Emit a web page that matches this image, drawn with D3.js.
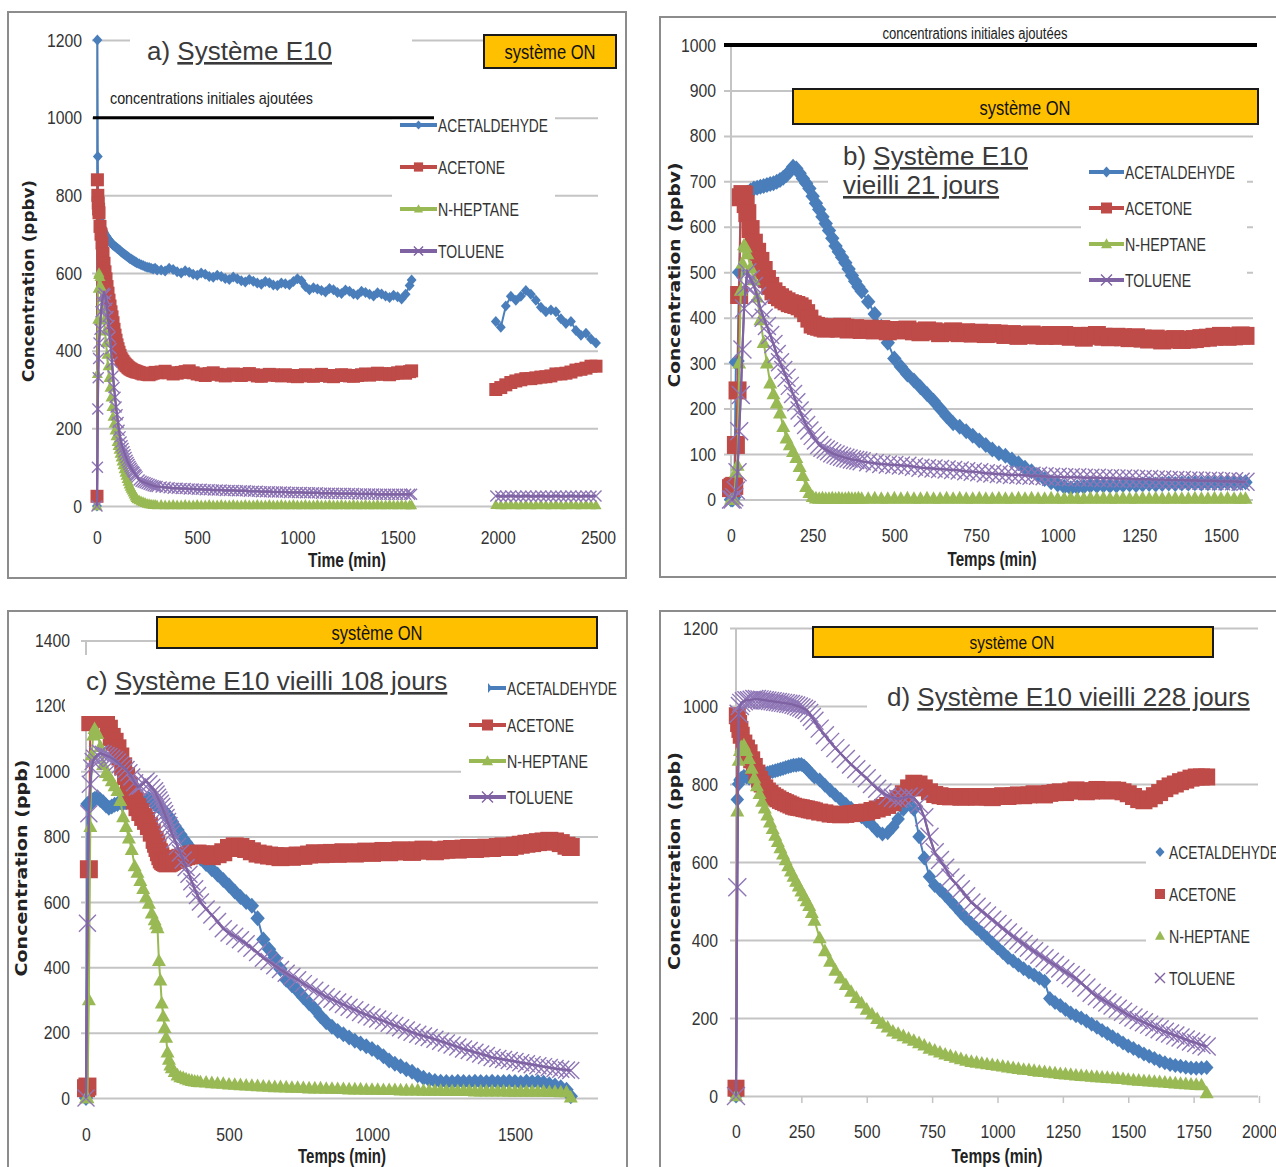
<!DOCTYPE html>
<html>
<head>
<meta charset="utf-8">
<script src="https://cdn.jsdelivr.net/npm/d3@7"></script>
<style>
  body { margin: 0; background: #fff; }
</style>
</head>
<body>
<svg id="chart" width="1276" height="1167"></svg>
<script>
// ---------------------------------------------------------------
// Measured concentrations (ppb) of four VOCs versus time (min)
// ---------------------------------------------------------------
const seriesNames = ["ACETALDEHYDE", "ACETONE", "N-HEPTANE", "TOLUENE"];

// a) Système E10 — first run
const timeA1 = [0,2,4,6,8,
  10,15,20,25,30,35,40,45,50,55,60,65,70,75,80,85,90,95,100,105,110,115,120,125,130,135,140,145,150,155,160,165,170,175,180,185,190,195,200,
  210,220,230,240,250,260,270,280,290,300,
  320,340,360,380,400,420,440,460,480,500,520,540,560,580,600,620,640,660,680,700,720,740,760,780,800,820,840,860,880,900,
  920,940,960,980,1000,1020,1040,1060,1080,1100,1120,1140,1160,1180,1200,1220,1240,1260,1280,1300,1320,1340,1360,1380,1400,
  1420,1440,1460,1480,1500,1520,1540,1560,1570];
const acetaldehydeA1 = [0,1200,900,780,765,
  755,740,728,718,710,705,700,696,692,688,685,682,678,675,672,670,668,666,664,662,660,658,655,653,651,649,647,645,643,641,639,637,636,634,632,631,629,628,626,
  624,621,619,617,615,614,612,610,612,608,
  608,605,612,609,603,600,606,602,597,594,600,597,591,589,594,591,586,583,590,585,580,577,583,579,574,571,578,575,569,568,
  574,572,570,578,585,580,565,557,562,559,555,551,560,557,550,547,556,553,546,544,553,550,545,541,549,
  546,541,537,543,539,533,545,568,582];
const acetoneA1 = [25,840,800,780,765,
  755,720,700,677,650,625,603,585,565,548,530,515,500,487,472,455,440,427,415,405,396,388,380,376,372,368,365,362,360,357,355,353,352,350,349,348,347,346,345,
  344,342,340,341,339,338,340,342,344,343,
  345,347,343,340,342,344,346,348,343,340,338,336,341,343,339,337,335,338,340,337,336,339,341,338,335,334,337,339,338,336,
  335,338,336,334,333,336,338,335,334,337,339,336,334,333,336,338,337,335,334,336,338,340,337,339,342,
  341,339,338,341,343,345,342,346,348];
const heptaneA1 = [0,340,480,560,595,
  600,590,565,535,505,478,450,420,390,360,330,305,280,255,230,212,195,180,165,155,145,135,125,115,105,95,86,78,70,63,56,50,45,40,35,30,25,21,18,
  15,12,10,8,6,5,4,3,3,2,
  3,2,2,3,2,2,3,2,2,3,2,2,3,2,2,3,2,2,3,2,2,3,2,2,3,2,2,3,2,2,
  3,2,2,3,2,2,3,2,2,3,2,2,3,2,2,3,2,2,3,2,2,3,2,2,3,
  2,2,3,2,2,3,2,2,2];
const tolueneA1 = [0,100,250,330,380,
  420,455,500,525,540,548,545,530,510,488,465,435,405,370,335,305,280,255,235,215,195,178,165,155,148,140,132,125,118,112,107,102,97,93,89,86,82,79,75,
  67,64,62,60,58,56,54,52,51,50,
  49,48,47,46,46,45,45,44,44,43,43,42,42,41,41,41,40,40,40,39,39,39,38,38,38,37,37,37,36,36,
  36,36,35,35,35,35,34,34,34,34,33,33,33,33,32,32,32,32,32,31,31,31,31,31,30,
  30,30,30,30,30,30,30,30,30];
// a) Système E10 — second run
const timeA2 = [1990,2015,2040,2065,2090,2115,2140,2165,2190,2215,2240,2265,2290,2315,2340,2365,2390,2415,2440,2465,2490];
const acetaldehydeA2 = [475,460,515,540,530,540,555,545,530,512,500,505,500,482,470,475,452,440,445,430,420];
const acetoneA2 = [300,305,312,318,322,325,328,328,330,332,333,335,340,340,342,345,350,352,355,360,360];
const heptaneA2 = [3,2,2,3,2,2,3,2,2,3,2,2,3,2,2,3,2,2,3,2,2];
const tolueneA2 = [26,25,25,26,25,25,26,25,25,26,25,25,26,25,25,26,25,25,26,25,26];

// b) Système E10 vieilli 21 jours
const timeB = [0,5,10,15,20,25,30,35,40,45,50,
  60,70,80,90,100,110,120,130,140,150,160,170,180,190,200,210,220,230,240,250,260,270,280,290,300,310,320,330,340,350,360,370,380,390,400,
  420,440,460,480,500,520,540,560,580,600,620,640,660,680,700,720,740,760,780,800,820,840,860,880,900,920,940,960,980,1000,
  1020,1040,1060,1080,1100,1120,1140,1160,1180,1200,1220,1240,1260,1280,1300,1320,1340,1360,1380,1400,1420,1440,1460,1480,1500,1520,1540,1560,1575];
const acetaldehydeB = [0,0,5,302,305,500,660,668,670,672,675,
  680,684,686,688,690,692,694,696,699,703,708,714,722,732,728,718,706,696,684,667,652,638,622,607,592,575,558,545,533,521,507,493,480,468,458,
  435,408,380,345,310,292,275,262,247,232,217,200,183,168,160,150,140,130,120,110,102,96,88,80,70,62,54,45,38,33,
  28,25,27,28,30,30,31,30,31,32,33,32,33,34,33,34,35,34,35,35,36,35,36,36,36,37,36,37,38];
const acetoneB = [25,28,30,120,240,450,665,672,670,650,630,
  595,565,545,525,505,485,470,458,450,445,440,436,432,430,428,425,420,410,398,385,382,380,378,376,377,379,378,376,380,378,374,376,377,375,373,
  376,372,375,370,373,372,374,370,368,372,370,366,368,370,366,368,365,367,364,366,365,362,364,360,362,363,361,360,362,360,
  362,358,360,356,360,362,358,357,358,357,355,357,354,352,354,350,352,353,351,352,353,355,356,358,360,358,359,361,360];
const heptaneB = [0,0,0,60,75,300,460,520,560,555,540,
  510,483,445,395,345,300,256,232,212,190,160,135,120,105,92,72,52,28,15,6,3,2,3,2,2,3,2,3,2,2,3,2,2,3,2,
  2,3,2,2,3,2,3,2,2,3,2,2,3,2,3,2,2,3,2,2,3,2,2,3,2,3,2,2,3,2,
  2,3,2,2,3,2,3,2,2,3,2,2,3,2,3,2,2,3,2,2,3,2,2,3,2,3,2,2,2];
const tolueneB = [0,0,5,20,60,150,230,330,420,470,500,
  485,470,448,420,400,382,362,342,320,302,285,268,250,232,214,196,180,164,152,140,130,120,114,110,106,102,99,96,94,92,90,88,87,86,84,
  82,80,78,77,76,75,74,72,70,69,68,67,66,65,64,62,61,60,58,57,56,55,54,54,53,52,52,51,50,50,
  49,49,49,48,48,48,47,47,46,46,46,45,45,45,44,44,43,43,43,42,42,41,41,41,40,40,40,39,39];

// c) Système E10 vieilli 108 jours
const timeC = [0,5,10,15,20,25,30,
  40,50,60,70,80,90,100,110,120,130,140,150,160,170,180,190,200,210,220,230,240,
  245,250,255,260,265,270,275,280,285,290,295,300,
  310,320,330,340,350,360,370,380,390,400,
  420,440,460,480,500,520,540,560,580,600,620,640,660,680,700,720,740,760,780,800,820,840,860,880,900,920,940,960,980,1000,
  1020,1040,1060,1080,1100,1120,1140,1160,1180,1200,1220,1240,1260,1280,1300,1320,1340,1360,1380,1400,
  1420,1440,1460,1480,1500,1520,1540,1560,1580,1600,1620,1640,1660,1680,1695];
const acetaldehydeC = [0,900,895,905,910,912,915,
  920,912,905,895,888,892,897,900,905,902,905,908,912,915,918,912,906,910,915,908,900,
  898,895,892,890,885,880,876,870,865,860,852,845,
  832,820,806,793,782,770,760,750,742,733,
  716,700,684,667,650,632,615,600,588,550,485,455,430,395,362,345,328,308,290,272,250,232,218,205,195,185,175,167,158,150,
  140,128,115,105,97,88,80,70,62,56,52,50,49,48,50,49,48,50,49,48,
  50,48,49,50,49,47,50,48,49,47,42,38,33,25,5];
const acetoneC = [30,35,700,1150,1200,1205,1210,
  1205,1200,1185,1160,1130,1105,1090,1070,1045,1015,985,955,930,910,890,875,860,848,832,812,790,
  778,765,752,740,730,725,722,720,718,720,722,725,
  728,732,735,737,740,742,745,747,748,746,
  744,740,746,752,765,770,768,762,755,748,745,742,740,737,740,738,742,741,745,749,746,748,750,747,752,750,748,752,754,750,
  753,756,752,755,758,755,753,758,760,757,755,758,760,762,760,763,765,762,764,766,
  765,768,770,768,772,775,778,780,783,785,787,785,780,772,768];
const heptaneC = [0,0,300,830,1050,1110,1130,
  1115,1075,1020,995,985,970,955,940,910,860,830,795,760,710,690,665,640,615,595,565,545,
  532,520,420,360,290,250,215,185,140,118,100,92,
  80,70,64,62,58,55,53,51,50,49,
  48,46,45,44,42,41,40,39,38,37,36,35,34,34,33,32,32,31,30,30,30,29,29,28,28,27,27,27,26,26,
  26,25,25,25,24,24,24,24,23,23,23,23,22,22,22,22,22,21,21,21,
  21,21,21,20,20,20,20,20,20,20,19,19,18,18,2];
const tolueneC = [0,535,870,960,1010,1030,1040,
  1050,1055,1052,1048,1045,1040,1035,1028,1020,1012,1005,995,982,965,952,955,962,970,962,950,940,
  930,920,912,902,892,880,870,858,846,834,822,810,
  790,770,750,728,705,685,662,640,620,600,
  578,560,540,518,505,495,484,472,458,445,428,418,405,393,382,372,362,350,340,330,320,310,302,294,286,278,270,262,255,248,
  242,236,229,222,215,208,201,195,190,185,180,174,168,162,156,150,145,140,135,130,
  124,121,118,115,112,108,105,102,99,96,93,90,88,86,84];

// d) Système E10 vieilli 228 jours
const timeD = [0,5,10,15,20,
  30,40,50,60,70,80,90,100,110,120,130,140,150,160,170,180,190,200,210,220,230,240,250,260,270,280,290,300,
  320,340,360,380,400,420,440,460,480,500,520,540,560,580,600,620,640,660,680,700,720,740,760,780,800,820,840,860,880,900,
  920,940,960,980,1000,1020,1040,1060,1080,1100,1120,1140,1160,1180,1200,1220,1240,1260,1280,1300,1320,1340,1360,1380,1400,
  1420,1440,1460,1480,1500,1520,1540,1560,1580,1600,1620,1640,1660,1680,1700,1720,1740,1760,1780,1800];
const acetaldehydeD = [0,760,800,810,815,
  820,818,815,818,820,822,824,826,827,828,830,832,834,836,838,840,842,844,846,848,848,850,850,846,840,832,825,818,
  810,797,784,772,760,748,738,726,716,705,695,680,672,675,690,710,735,758,735,665,610,562,540,528,515,500,485,470,456,443,
  430,418,405,392,380,368,355,346,336,326,318,310,302,294,250,240,232,222,213,206,200,192,184,176,168,
  160,152,144,136,128,122,115,108,102,96,90,85,81,78,76,74,72,71,72,73];
const acetoneD = [20,975,955,940,925,
  905,892,880,862,845,828,812,800,790,782,776,770,766,762,758,755,752,749,746,743,741,740,739,737,736,734,733,731,
  728,726,723,722,721,722,724,725,727,728,732,736,740,745,752,762,775,790,802,800,790,780,773,770,768,767,768,766,767,768,
  766,768,767,765,768,770,768,770,772,770,772,775,773,772,776,778,780,778,782,785,783,780,782,786,784,
  782,785,784,780,775,768,760,757,762,770,778,788,795,800,806,810,815,818,818,818];
const heptaneD = [0,730,860,885,895,
  900,885,865,840,815,795,775,755,738,720,702,685,668,652,636,620,605,590,576,563,550,538,525,513,500,488,470,450,
  405,372,345,322,302,285,268,252,238,222,210,198,186,176,166,160,154,148,142,136,130,122,117,112,107,103,99,95,91,88,
  86,84,82,80,78,76,74,72,70,68,67,65,63,62,60,59,57,56,55,53,52,51,50,49,48,
  47,46,45,44,42,41,40,39,38,37,36,35,34,33,32,31,30,29,28,8];
const tolueneD = [0,535,980,1000,1008,
  1012,1015,1015,1016,1018,1018,1017,1016,1015,1014,1013,1012,1011,1010,1009,1008,1007,1006,1005,1003,1001,999,996,993,990,982,972,962,
  942,925,908,892,878,864,850,838,826,815,800,788,778,770,765,762,764,768,765,748,715,665,625,605,585,560,545,530,512,496,
  485,474,463,452,441,430,419,409,399,390,380,371,362,353,344,336,327,318,310,302,290,278,265,256,248,
  240,232,224,216,208,201,195,189,183,177,171,165,160,155,150,145,140,136,131,127];

// Axis tick values
const yTicksA = [0, 200, 400, 600, 800, 1000, 1200];
const xTicksA = [0, 500, 1000, 1500, 2000, 2500];
const yTicksB = [0, 100, 200, 300, 400, 500, 600, 700, 800, 900, 1000];
const xTicksB = [0, 250, 500, 750, 1000, 1250, 1500];
const yTicksC = [0, 200, 400, 600, 800, 1000, 1200, 1400];
const xTicksC = [0, 500, 1000, 1500];
const yTicksD = [0, 200, 400, 600, 800, 1000, 1200];
const xTicksD = [0, 250, 500, 750, 1000, 1250, 1500, 1750, 2000];

// Level of the initial injection
const initialLevel = 1000;

// ---------------------------------------------------------------
// Styling
// ---------------------------------------------------------------
const NARROW = '"Liberation Sans Narrow","Arial Narrow","Liberation Sans",Arial,sans-serif';
const SANS = '"Liberation Sans",Arial,sans-serif';
const BOLDFACE = '"DejaVu Sans",Verdana,sans-serif';
const colors = ["#4A7EBB", "#BE4B48", "#98B954", "#7F62A1"];
const crossColor = "#8F76B6";
const shapes = ["diamond", "square", "triangle", "cross"];
const GRID = "#c4c4c4";

function shapePath(shape, h) {
  switch (shape) {
    case "diamond": return `M0,${-h}L${h * 0.9},0L0,${h}L${-h * 0.9},0Z`;
    case "square": return `M${-h},${-h}h${2 * h}v${2 * h}h${-2 * h}Z`;
    case "triangle": return `M0,${-h * 1.05}L${h},${h * 0.75}L${-h},${h * 0.75}Z`;
    default: return `M${-h},${-h}L${h},${h}M${-h},${h}L${h},${-h}`;
  }
}
function styleMarker(sel, i, plotMarks) {
  if (shapes[i] === "cross") sel.attr("fill", "none").attr("stroke", plotMarks ? crossColor : colors[i]).attr("stroke-width", 1.4);
  else sel.attr("fill", colors[i]).attr("stroke", "none");
}
// force a text to a given rendered width
function fit(sel, w) {
  return sel.attr("textLength", w).attr("lengthAdjust", "spacingAndGlyphs");
}
// condense texts horizontally by a factor
function condense(sel, k) {
  sel.each(function () {
    const w = this.getComputedTextLength();
    d3.select(this).attr("textLength", w * k).attr("lengthAdjust", "spacingAndGlyphs");
  });
}

const svg = d3.select("#chart");

const panels = [
  {
    frame: [8, 12, 618, 566],
    xDomain: [0, 2500], xRange: [97, 598], yDomain: [0, 1200], yRange: [506, 40],
    xTicks: xTicksA, yTicks: yTicksA, gridL: 92, gridR: 598,
    yLabelRight: 82, xLabelBase: 544, xTickLen: 0, mk: [5.5, 6.5, 5.5, 5.5], lw: 2,
    series: [
      [[timeA1, acetaldehydeA1], [timeA2, acetaldehydeA2]],
      [[timeA1, acetoneA1], [timeA2, acetoneA2]],
      [[timeA1, heptaneA1], [timeA2, heptaneA2]],
      [[timeA1, tolueneA1], [timeA2, tolueneA2]]
    ],
    yTitle: { text: "Concentration (ppbv)", x: 29, y: 281, len: 202 },
    xTitle: { text: "Time (min)", x: 347, y: 567, len: 78 },
    titleBox: [130, 25, 282, 45],
    titles: [{ x: 147, y: 60, pre: "a) ", u: "Système E10" }],
    legendBox: [392, 105, 163, 160],
    legend: { x1: 400, x2: 437, tx: 438, ys: [125, 167, 209, 251], lines: true, mk: 4.6 },
    onBox: [484, 35, 132, 33], onText: { x: 550, y: 59, len: 91, size: 21 },
    initLine: { x1: 93, x2: 434, w: 3, tx: 110, ty: 104, anchor: "start", len: 203, size: 17 }
  },
  {
    frame: [660, 17, 640, 560],
    xDomain: [0, 1500], xRange: [731, 1221], yDomain: [0, 1000], yRange: [499.5, 45],
    xTicks: xTicksB, yTicks: yTicksB, gridL: 724, gridR: 1253,
    yLabelRight: 716, xLabelBase: 542, xTickLen: 0, mk: [8, 9, 7, 9], lw: 2,
    series: [
      [[timeB, acetaldehydeB]], [[timeB, acetoneB]], [[timeB, heptaneB]], [[timeB, tolueneB]]
    ],
    yTitle: { text: "Concentration (ppbv)", x: 675, y: 275, len: 225 },
    xTitle: { text: "Temps (min)", x: 992, y: 566, len: 89 },
    onBox: [793, 89, 465, 35], onText: { x: 1025, y: 115, len: 91, size: 21 },
    initLine: { x1: 724, x2: 1257, w: 4, tx: 975, ty: 39, anchor: "middle", len: 185, size: 16 },
    titleBox: [828, 138, 260, 68],
    titles: [{ x: 843, y: 165, pre: "b) ", u: "Système E10" }, { x: 843, y: 194, pre: "", u: "vieilli 21 jours" }],
    legendBox: [1081, 152, 166, 143],
    legend: { x1: 1089, x2: 1124, tx: 1125, ys: [172, 208, 244, 280], lines: true, mk: 5.5 }
  },
  {
    frame: [8, 611, 619, 620],
    xDomain: [0, 1500], xRange: [86, 515], yDomain: [0, 1400], yRange: [1098, 640.5],
    xTicks: xTicksC, yTicks: yTicksC, gridL: 81, gridR: 598,
    yLabelRight: 70, xLabelBase: 1141, xTickLen: 0, mk: [8, 9, 7, 8.5], lw: 2,
    series: [
      [[timeC, acetaldehydeC]], [[timeC, acetoneC]], [[timeC, heptaneC]], [[timeC, tolueneC]]
    ],
    yTitle: { text: "Concentration (ppb)", x: 22, y: 868, len: 217 },
    xTitle: { text: "Temps (min)", x: 342, y: 1163, len: 88 },
    onBox: [157, 617, 440, 31], onText: { x: 377, y: 640, len: 91, size: 21 },
    titleBox: [65, 655, 400, 61],
    titles: [{ x: 86, y: 690, pre: "c) ", u: "Système E10 vieilli 108 jours" }],
    legendBox: [461, 668, 161, 147],
    legend: { x1: 469, x2: 506, tx: 507, ys: [688, 725, 761, 797], lines: true, mk: 5.5, cutFirst: 488 }
  },
  {
    frame: [660, 611, 640, 620],
    xDomain: [0, 2000], xRange: [736, 1259], yDomain: [0, 1200], yRange: [1096, 628],
    xTicks: xTicksD, yTicks: yTicksD, gridL: 730, gridR: 1258,
    yLabelRight: 718, xLabelBase: 1138, xTickLen: 7, mk: [7.5, 8.5, 7, 9], lw: 2,
    series: [
      [[timeD, acetaldehydeD]], [[timeD, acetoneD]], [[timeD, heptaneD]], [[timeD, tolueneD]]
    ],
    yTitle: { text: "Concentration (ppb)", x: 675, y: 861, len: 218 },
    xTitle: { text: "Temps (min)", x: 997, y: 1163, len: 91 },
    onBox: [813, 627, 400, 30], onText: { x: 1012, y: 649, len: 85, size: 18 },
    titleBox: [867, 672, 400, 50],
    titles: [{ x: 887, y: 706, pre: "d) ", u: "Système E10 vieilli 228 jours" }],
    legendBox: [1146, 830, 135, 170],
    legend: { x1: 1160, x2: 1160, tx: 1169, ys: [852, 894, 936, 978], lines: false, mk: 5 }
  }
];

function drawPanel(p) {
  const g = svg.append("g");
  const x = d3.scaleLinear().domain(p.xDomain).range(p.xRange);
  const y = d3.scaleLinear().domain(p.yDomain).range(p.yRange);
  const x0 = x(0), yTop = y(p.yTicks[p.yTicks.length - 1]), yZero = y(0);

  // frame
  g.append("rect")
    .attr("x", p.frame[0]).attr("y", p.frame[1])
    .attr("width", p.frame[2]).attr("height", p.frame[3])
    .attr("fill", "#fff").attr("stroke", "#8c8c8c").attr("stroke-width", 2);

  // y axis: gridlines and labels
  const yAxis = d3.axisLeft(y)
    .tickValues(p.yTicks)
    .tickFormat(d3.format("d"))
    .tickSizeInner(-(p.gridR - x0))
    .tickSizeOuter(0)
    .tickPadding(x0 - p.yLabelRight);
  const ya = g.append("g").attr("transform", `translate(${x0},0)`).call(yAxis);
  ya.select(".domain").remove();
  ya.selectAll("line").attr("x1", p.gridL - x0).attr("stroke", GRID).attr("stroke-width", 2);
  ya.selectAll("text").style("font-family", NARROW).style("font-size", "19px").attr("fill", "#333")
    .call(condense, 0.83);

  // y axis line
  g.append("line").attr("x1", x0).attr("x2", x0).attr("y1", yTop).attr("y2", yZero)
    .attr("stroke", GRID).attr("stroke-width", 2);

  // x axis labels
  const xAxis = d3.axisBottom(x)
    .tickValues(p.xTicks)
    .tickFormat(d3.format("d"))
    .tickSizeInner(p.xTickLen)
    .tickSizeOuter(0);
  const xa = g.append("g").attr("transform", `translate(0,${yZero})`).call(xAxis);
  xa.select(".domain").remove();
  xa.selectAll("line").attr("stroke", GRID).attr("stroke-width", 1.5);
  xa.selectAll("text")
    .attr("y", p.xLabelBase - yZero).attr("dy", null)
    .style("font-family", NARROW).style("font-size", "19px").attr("fill", "#333")
    .call(condense, 0.83);

  // axis titles
  fit(g.append("text")
    .attr("transform", `translate(${p.yTitle.x},${p.yTitle.y}) rotate(-90)`)
    .attr("text-anchor", "middle").attr("dy", "0.35em")
    .style("font-family", BOLDFACE).style("font-weight", "bold").style("font-size", "15px")
    .attr("fill", "#222").text(p.yTitle.text), p.yTitle.len);
  fit(g.append("text")
    .attr("x", p.xTitle.x).attr("y", p.xTitle.y).attr("text-anchor", "middle")
    .style("font-family", NARROW).style("font-weight", "bold").style("font-size", "20px")
    .attr("fill", "#222").text(p.xTitle.text), p.xTitle.len);

  // data series: line + markers
  const line = d3.line().x(d => x(d[0])).y(d => y(d[1]));
  p.series.forEach((segments, i) => {
    segments.forEach(([times, values]) => {
      if (times.length !== values.length) console.warn("length mismatch", seriesNames[i], times.length, values.length);
      const pts = times.map((t, k) => [t, values[k]]).filter(d => d[1] != null);
      g.append("path").datum(pts).attr("d", line)
        .attr("fill", "none").attr("stroke", colors[i]).attr("stroke-width", p.lw);
      g.append("g").selectAll("path").data(pts).join("path")
        .attr("transform", d => `translate(${x(d[0])},${y(d[1])})`)
        .attr("d", shapePath(shapes[i], p.mk[i]))
        .call(styleMarker, i, true);
      if (shapes[i] === "cross") {
        // thin centre line stays visible through the cross hatching
        g.append("path").datum(pts).attr("d", line)
          .attr("fill", "none").attr("stroke", colors[i]).attr("stroke-width", 2.2);
      }
    });
  });

  // legend
  g.append("rect").attr("x", p.legendBox[0]).attr("y", p.legendBox[1])
    .attr("width", p.legendBox[2]).attr("height", p.legendBox[3]).attr("fill", "#fff");
  const L = p.legend;
  const legendWidths = [110, 67, 81, 66];
  seriesNames.forEach((name, i) => {
    const ly = L.ys[i];
    const mx = L.lines ? (L.x1 + L.x2) / 2 : L.x1;
    if (L.lines) {
      g.append("line").attr("x1", L.x1).attr("x2", L.x2).attr("y1", ly).attr("y2", ly)
        .attr("stroke", colors[i]).attr("stroke-width", 4);
    }
    g.append("path").attr("transform", `translate(${mx},${ly})`)
      .attr("d", shapePath(shapes[i], L.mk)).call(styleMarker, i, false);
    fit(g.append("text").attr("x", L.tx).attr("y", ly).attr("dy", "0.36em")
      .style("font-family", NARROW).style("font-size", "19px").attr("fill", "#333")
      .text(name), legendWidths[i]);
  });
  if (L.cutFirst) {
    g.append("rect").attr("x", L.x1 - 4).attr("y", L.ys[0] - 10)
      .attr("width", L.cutFirst - L.x1 + 4).attr("height", 20).attr("fill", "#fff");
  }

  // title
  g.append("rect").attr("x", p.titleBox[0]).attr("y", p.titleBox[1])
    .attr("width", p.titleBox[2]).attr("height", p.titleBox[3]).attr("fill", "#fff");
  p.titles.forEach(tl => {
    const t = g.append("text").attr("x", tl.x).attr("y", tl.y)
      .style("font-family", SANS).style("font-size", "26px").attr("fill", "#3a3a3a");
    if (tl.pre) t.append("tspan").text(tl.pre);
    t.append("tspan").attr("text-decoration", "underline").text(tl.u);
  });

  // initial injection level
  if (p.initLine) {
    const il = p.initLine;
    g.append("line").attr("x1", il.x1).attr("x2", il.x2)
      .attr("y1", y(initialLevel)).attr("y2", y(initialLevel))
      .attr("stroke", "#000").attr("stroke-width", il.w);
    fit(g.append("text").attr("x", il.tx).attr("y", il.ty).attr("text-anchor", il.anchor)
      .style("font-family", NARROW).style("font-size", il.size + "px").attr("fill", "#222")
      .text("concentrations initiales ajoutées"), il.len);
  }

  // "système ON" banner
  g.append("rect").attr("x", p.onBox[0]).attr("y", p.onBox[1])
    .attr("width", p.onBox[2]).attr("height", p.onBox[3])
    .attr("fill", "#FFC000").attr("stroke", "#1a1a1a").attr("stroke-width", 2);
  fit(g.append("text").attr("x", p.onText.x).attr("y", p.onText.y).attr("text-anchor", "middle")
    .style("font-family", NARROW).style("font-size", p.onText.size + "px").attr("fill", "#111")
    .text("système ON"), p.onText.len);
}

panels.forEach(drawPanel);
</script>
</body>
</html>
